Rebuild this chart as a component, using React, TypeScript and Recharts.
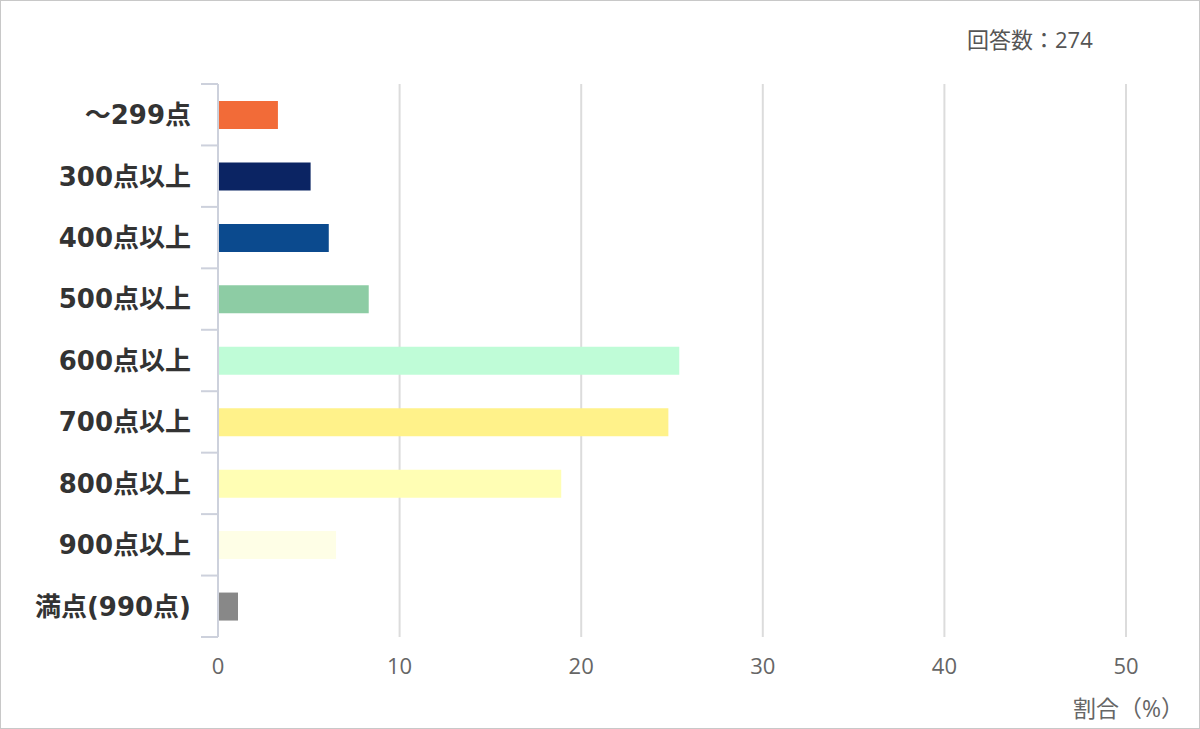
import React from "react";
import { BarChart, Bar, XAxis, YAxis, CartesianGrid, Cell } from "recharts";

const categories = ["～299点", "300点以上", "400点以上", "500点以上", "600点以上", "700点以上", "800点以上", "900点以上", "満点(990点)"];
const shares = [3.3, 5.1, 6.1, 8.3, 25.4, 24.8, 18.9, 6.5, 1.1];
const colors = ["#F26B38", "#0B2463", "#0B4A8E", "#8DCCA4", "#BFFCD7", "#FFF28A", "#FFFEB4", "#FEFEE6", "#888888"];
const xTicks = [0, 10, 20, 30, 40, 50];
const responseLabel = "回答数：274";
const xAxisTitle = "割合（%）";

const data = categories.map((c, i) => ({ name: c, value: shares[i] }));

const W = 1200;
const H = 729;
const X_H = 92;
const M = { top: 84, right: 74, bottom: 0, left: 0 };
const Y_W = 218;
const band = (H - M.top - X_H) / categories.length;
const FONT = "'DejaVu Sans', 'Noto Sans CJK JP', sans-serif";
const SOFT_FONT = "'Open Sans', 'Noto Sans CJK JP', sans-serif";

const YTick = (props: any) => {
  const { x, y, payload, index } = props;
  const ax = x + 27;
  return (
    <g>
      <line x1={ax - 17} x2={ax} y1={y - band / 2} y2={y - band / 2} stroke="#cdd1dc" strokeWidth={2} />
      {index === categories.length - 1 && (
        <line x1={ax - 17} x2={ax} y1={y + band / 2} y2={y + band / 2} stroke="#cdd1dc" strokeWidth={2} />
      )}
      <text x={x} y={y} dy="0.36em" textAnchor="end" fontSize={26} fontWeight={700} fill="#333" fontFamily={FONT}>
        {payload.value}
      </text>
    </g>
  );
};

export default function App() {
  return (
    <div style={{ position: "absolute", left: 0, top: 0, width: W, height: H, boxSizing: "border-box", border: "1px solid #c8c8c8", background: "#fff", fontFamily: SOFT_FONT }}>
      <div style={{ position: "absolute", left: 966, top: 21, fontSize: 22, lineHeight: "34px", color: "#555", whiteSpace: "nowrap" }}>{responseLabel}</div>
      <div style={{ position: "absolute", left: 1072, top: 690, fontSize: 23, lineHeight: "34px", color: "#666", whiteSpace: "nowrap" }}>{xAxisTitle}</div>
      <div style={{ position: "absolute", left: -1, top: -1 }}>
        <BarChart width={W} height={H} data={data} layout="vertical" margin={M}>
          <CartesianGrid horizontal={false} vertical={true} stroke="#dcdcdc" strokeWidth={2} />
          <XAxis
            type="number"
            domain={[0, 50]}
            ticks={xTicks}
            axisLine={false}
            tickLine={false}
            tickMargin={15}
            tick={{ fontSize: 22, fill: "#666", fontFamily: SOFT_FONT }}
            height={X_H}
          />
          <YAxis
            type="category"
            dataKey="name"
            width={Y_W}
            tickLine={false}
            tickSize={0}
            tickMargin={27}
            axisLine={{ stroke: "#cdd1dc", strokeWidth: 2 }}
            tick={<YTick />}
            interval={0}
          />
          <Bar dataKey="value" barSize={28} isAnimationActive={false}>
            {data.map((d, i) => (
              <Cell key={d.name} fill={colors[i]} />
            ))}
          </Bar>
        </BarChart>
      </div>
    </div>
  );
}
